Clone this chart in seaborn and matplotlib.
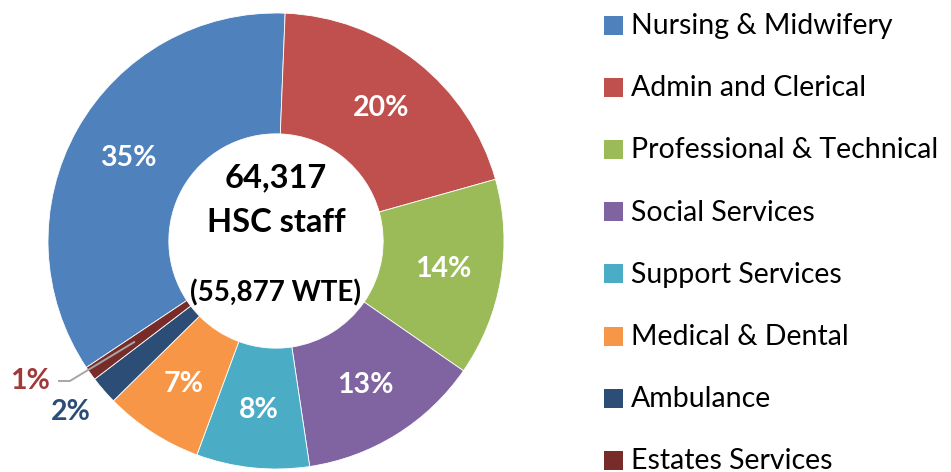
import matplotlib
matplotlib.use("Agg")
import matplotlib.pyplot as plt
from matplotlib.patches import Rectangle
import numpy as np
import seaborn as sns

categories = ["Nursing & Midwifery", "Admin and Clerical", "Professional & Technical",
              "Social Services", "Support Services", "Medical & Dental",
              "Ambulance", "Estates Services"]
values = [35, 20, 14, 13, 8, 7, 2, 1]
colors = ["#4F81BD", "#C0504D", "#9BBB59", "#8064A2", "#4BACC6", "#F79646",
          "#2C4D75", "#772C2A"]
center_lines = ["64,317", "HSC staff", "(55,877 WTE)"]

sns.set_theme(style="white")
plt.rcParams['font.family'] = ['Lato', 'DejaVu Sans']

W, H = 951, 472
fig = plt.figure(figsize=(W / 100, H / 100), dpi=100)
cx, cy, R = 276, 241, 228
ax = fig.add_axes([(cx - R) / W, (H - cy - R) / H, 2 * R / W, 2 * R / H])

total = sum(values)
start = 87.7 + 360 * values[0] / total
wedges, _ = ax.pie(values, colors=colors, startangle=start, counterclock=False,
                   radius=1.0, wedgeprops=dict(width=0.53, edgecolor="white", linewidth=0.6))
ax.set_xlim(-1, 1)
ax.set_ylim(-1, 1)
ax.set_aspect("equal")
ax.axis("off")

# percentage labels
for i, (w, v) in enumerate(zip(wedges, values)):
    mid = np.deg2rad((w.theta1 + w.theta2) / 2)
    if v >= 5:
        r = 0.745
        ax.text(r * np.cos(mid), r * np.sin(mid), f"{v}%", color="white",
                fontsize=20.5, fontweight="bold", ha="center", va="center")

# small slices: outside labels
est = wedges[7]
mid = np.deg2rad((est.theta1 + est.theta2) / 2)
p0 = (0.76 * np.cos(mid), 0.76 * np.sin(mid))
ax.plot([p0[0], -0.904, -0.956], [p0[1], -0.614, -0.614], color="#A6A6A6", lw=1.4,
        clip_on=False, solid_capstyle="butt")
ax.text(-0.99, -0.614, f"{values[7]}%", color="#A0393A", fontsize=20.5,
        fontweight="bold", ha="right", va="center")
ax.text(-0.899, -0.75, f"{values[6]}%", color="#2C4D75", fontsize=20.5,
        fontweight="bold", ha="center", va="center")

# centre text
ax.text(0.0, 0.276, center_lines[0], fontsize=23.5, fontweight="bold", ha="center",
        va="center", color="black")
ax.text(0.0, 0.079, center_lines[1], fontsize=23.5, fontweight="bold", ha="center",
        va="center", color="black")
ax.text(0.0, -0.228, center_lines[2], fontsize=20, fontweight="bold", ha="center",
        va="center", color="black")

# legend
for i in range(len(categories)):
    yc = 25 + 62.2 * i
    fig.patches.append(Rectangle((604 / W, 1 - (yc + 9.5) / H), 19 / W, 19 / H,
                                 transform=fig.transFigure, facecolor=colors[i],
                                 edgecolor="none"))
    fig.text(631 / W, 1 - (yc + 1) / H, categories[i], fontsize=20.5, ha="left",
             va="center", color="black")

fig.savefig("out.png", dpi=100, facecolor="white")
